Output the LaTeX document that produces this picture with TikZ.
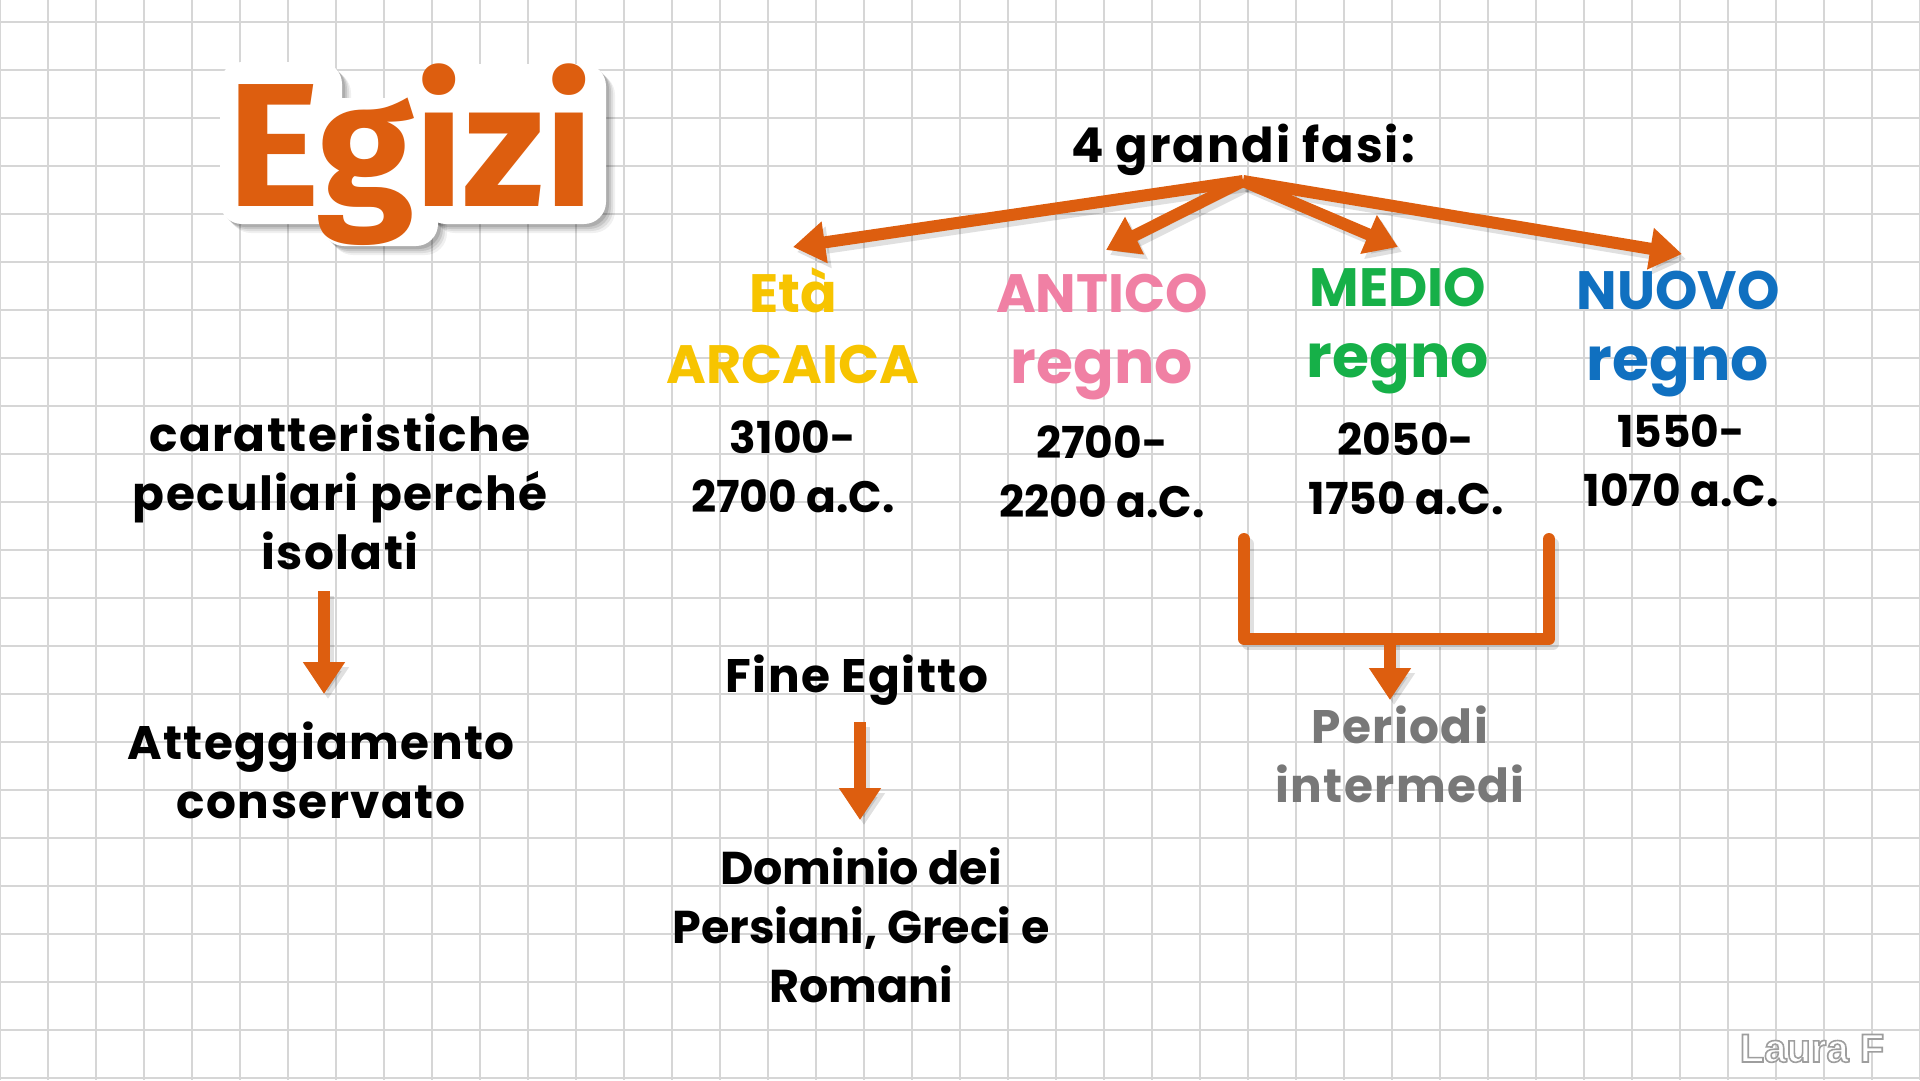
\documentclass[tikz,border=0pt]{standalone}
\usepackage{fontspec}
\setmainfont{Poppins}
\newfontfamily\titlefont{Fira Sans}
\newfontfamily\markfont{Liberation Sans}
\usetikzlibrary{arrows.meta}
\definecolor{org}{RGB}{221,94,15}
\definecolor{gridc}{RGB}{214,214,214}
\definecolor{yel}{RGB}{247,196,0}
\definecolor{pnk}{RGB}{240,128,164}
\definecolor{grn}{RGB}{22,176,72}
\definecolor{blu}{RGB}{16,112,192}
\definecolor{gry}{RGB}{120,120,120}
\tikzset{
  gridline/.style={draw=gridc, line width=2.2pt},
  txt/.style={font=\fontsize{47}{59}\selectfont\bfseries\addfontfeatures{LetterSpace=3}, align=center, anchor=base, inner sep=0pt, text=black},
  dat/.style={font=\fontsize{44}{59}\selectfont\bfseries, align=center, anchor=base, inner sep=0pt, text=black},
  hdr/.style={font=\fontsize{54}{71}\selectfont\bfseries, align=center, anchor=base, inner sep=0pt},
  arr/.style={draw=org, line width=12pt, -{Triangle[width=40pt,length=32pt]}},
  arrsh/.style={draw=black, fill=black, opacity=0.12, line width=12pt, -{Triangle[width=40pt,length=32pt]}},
  brk/.style={draw=org, line width=12pt, line cap=round, line join=round},
  brksh/.style={draw=black, opacity=0.12, line width=12pt, line cap=round, line join=round},
  sticker/.style={fill=white, rounded corners=22pt},
  sh/.style={shift={(4,5)}},
}
\begin{document}
\begin{tikzpicture}[x=1pt,y=-1pt]
\useasboundingbox (0,0) rectangle (1920,1080);
\fill[white] (0,0) rectangle (1920,1080);
\foreach \i in {0,...,40} \draw[gridline] (\i*48,0) -- (\i*48,1080);
\foreach \j in {0,...,22} \draw[gridline] (0,22+\j*48) -- (1920,22+\j*48);

% title sticker: soft shadow, white backing, orange text
\foreach \k/\op in {9/0.06,7/0.08,5/0.10,3/0.12} {
  \begin{scope}[shift={(\k,\k)}]
    \fill[black, opacity=\op, rounded corners=22pt] (220,62) rectangle (342,224);
    \fill[black, opacity=\op, rounded corners=22pt] (322,98) rectangle (438,246);
    \fill[black, opacity=\op, rounded corners=22pt] (424,64) rectangle (606,224);
  \end{scope}
}
\fill[sticker] (220,62) rectangle (342,224);
\fill[sticker] (322,98) rectangle (438,246);
\fill[sticker] (424,64) rectangle (606,224);
\node[font=\titlefont\bfseries\fontsize{176}{176}\selectfont, text=org, anchor=base, inner sep=0pt] (title) at (411,206) {Egizi};

% top label and fan
\node[txt, font=\fontsize{48}{59}\selectfont\bfseries\addfontfeatures{LetterSpace=4}] (fasi) at (1243,162) {4 grandi fasi:};
\coordinate (o) at (1243,181);
\coordinate (t1) at (793,247);
\coordinate (t2) at (1106,250);
\coordinate (t3) at (1398,247);
\coordinate (t4) at (1682,254);
\foreach \t in {t1,t2,t3,t4} \draw[arrsh] ([sh]o) -- ([sh]\t);
\foreach \t in {t1,t2,t3,t4} \draw[arr] (o) -- (\t);

% headers (base = last line)
\node[hdr, text=yel] (arc) at (793,383) {Età\\ARCAICA};
\node[hdr, text=pnk] (ant) at (1102,383) {ANTICO\\{\fontsize{60}{70}\selectfont regno}};
\node[hdr, text=grn] (med) at (1398,377) {MEDIO\\{\fontsize{60}{67}\selectfont regno}};
\node[hdr, text=blu] (nuo) at (1678,380) {NUOVO\\{\fontsize{60}{69}\selectfont regno}};

% dates
\node[dat] (d1) at (793,512) {3100-\\2700 a.C.};
\node[dat] (d2) at (1102,517) {2700-\\2200 a.C.};
\node[dat] (d3) at (1406,514) {2050-\\1750 a.C.};
\node[dat] (d4) at (1681,506) {1550-\\1070 a.C.};

% left column
\node[txt] (car) at (340,569) {caratteristiche\\peculiari perché\\isolati};
\node[txt] (att) at (321,818) {Atteggiamento\\conservato};
\coordinate (a1s) at (324,591);
\coordinate (a1e) at (324,694);
\draw[arrsh] ([sh]a1s) -- ([sh]a1e);
\draw[arr] (a1s) -- (a1e);

% middle column
\node[txt] (fine) at (857,692) {Fine Egitto};
\node[txt, font=\fontsize{46}{59}\selectfont\bfseries] (dom) at (861,1002) {Dominio dei\\Persiani, Greci e\\Romani};
\coordinate (a2s) at (860,722);
\coordinate (a2e) at (860,820);
\draw[arrsh] ([sh]a2s) -- ([sh]a2e);
\draw[arr] (a2s) -- (a2e);

% bracket
\coordinate (bl) at (1244,539);
\coordinate (bc1) at (1244,639);
\coordinate (bc2) at (1549,639);
\coordinate (br) at (1549,539);
\coordinate (bm) at (1390,639);
\coordinate (bt) at (1390,700);
\draw[brksh] ([sh]bl) -- ([sh]bc1) -- ([sh]bc2) -- ([sh]br);
\draw[arrsh] ([sh]bm) -- ([sh]bt);
\draw[brk] (bl) -- (bc1) -- (bc2) -- (br);
\draw[arr] (bm) -- (bt);
\node[txt, text=gry] (per) at (1400,802) {Periodi\\intermedi};

% watermark
\node[font=\markfont\bfseries\fontsize{40}{40}\selectfont, text=white, anchor=base, inner sep=0pt] (mark) at (1812,1062) {\special{pdf:literal direct 2 Tr 1.6 w 0.62 0.62 0.62 RG}Laura F\special{pdf:literal direct 0 Tr}};
\end{tikzpicture}
\end{document}
